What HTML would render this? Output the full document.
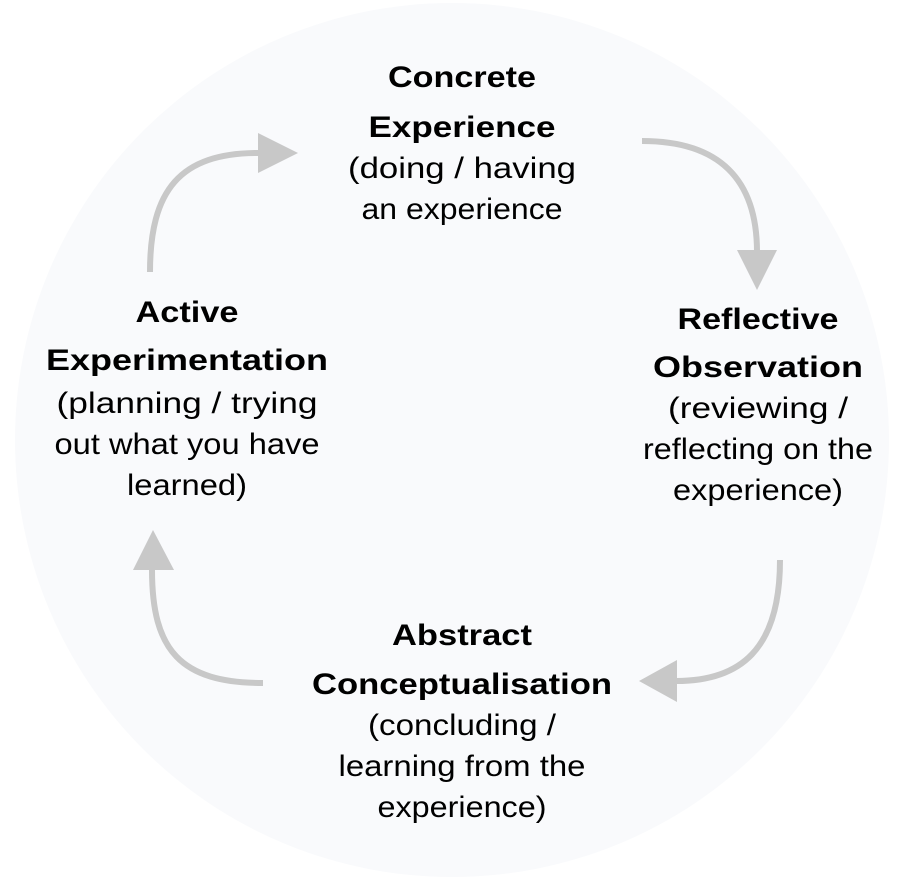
<!DOCTYPE html>
<html><head><style>html,body{margin:0;padding:0;background:#fff}svg{display:block}</style></head>
<body>
<svg width="903" height="877" viewBox="0 0 903 877" xmlns="http://www.w3.org/2000/svg">
<circle cx="452" cy="440" r="437" fill="#f9fafc"/>
<g fill="none" stroke="#c8c8c8" stroke-width="6">
<path d="M642 141 C720 141 757 180 757 252"/>
<path d="M780 560 C780 650 740 681 676 681"/>
<path d="M263 683 C180 683 152 650 152 570"/>
<path d="M150 272 C150 190 180 153 258 153"/>
</g>
<g fill="#c8c8c8">
<polygon points="737,250 777,250 757,290"/>
<polygon points="677,660 677,702 639,681"/>
<polygon points="133,570 174,570 153,530"/>
<polygon points="258,133 258,173 298,153"/>
</g>
<g font-family="Liberation Sans, sans-serif" font-size="30" fill="#000" text-anchor="middle" lengthAdjust="spacingAndGlyphs">
<g font-weight="bold">
<text x="462" y="87" textLength="148" lengthAdjust="spacingAndGlyphs">Concrete</text>
<text x="462" y="137" textLength="187" lengthAdjust="spacingAndGlyphs">Experience</text>
<text x="758" y="329" textLength="161" lengthAdjust="spacingAndGlyphs">Reflective</text>
<text x="758" y="377" textLength="210" lengthAdjust="spacingAndGlyphs">Observation</text>
<text x="187" y="322" textLength="103" lengthAdjust="spacingAndGlyphs">Active</text>
<text x="187" y="370" textLength="282" lengthAdjust="spacingAndGlyphs">Experimentation</text>
<text x="462" y="645" textLength="140" lengthAdjust="spacingAndGlyphs">Abstract</text>
<text x="462" y="694" textLength="300" lengthAdjust="spacingAndGlyphs">Conceptualisation</text>
</g>
<text x="462" y="178" textLength="228" lengthAdjust="spacingAndGlyphs">(doing / having</text>
<text x="462" y="219" textLength="201" lengthAdjust="spacingAndGlyphs">an experience</text>
<text x="758" y="418" textLength="180" lengthAdjust="spacingAndGlyphs">(reviewing /</text>
<text x="758" y="459" textLength="230" lengthAdjust="spacingAndGlyphs">reflecting on the</text>
<text x="758" y="500" textLength="170" lengthAdjust="spacingAndGlyphs">experience)</text>
<text x="187" y="413" textLength="261" lengthAdjust="spacingAndGlyphs">(planning / trying</text>
<text x="187" y="454" textLength="265" lengthAdjust="spacingAndGlyphs">out what you have</text>
<text x="187" y="495" textLength="120" lengthAdjust="spacingAndGlyphs">learned)</text>
<text x="462" y="735" textLength="188" lengthAdjust="spacingAndGlyphs">(concluding /</text>
<text x="462" y="776" textLength="247" lengthAdjust="spacingAndGlyphs">learning from the</text>
<text x="462" y="817" textLength="169" lengthAdjust="spacingAndGlyphs">experience)</text>
</g>
</svg>
</body></html>
